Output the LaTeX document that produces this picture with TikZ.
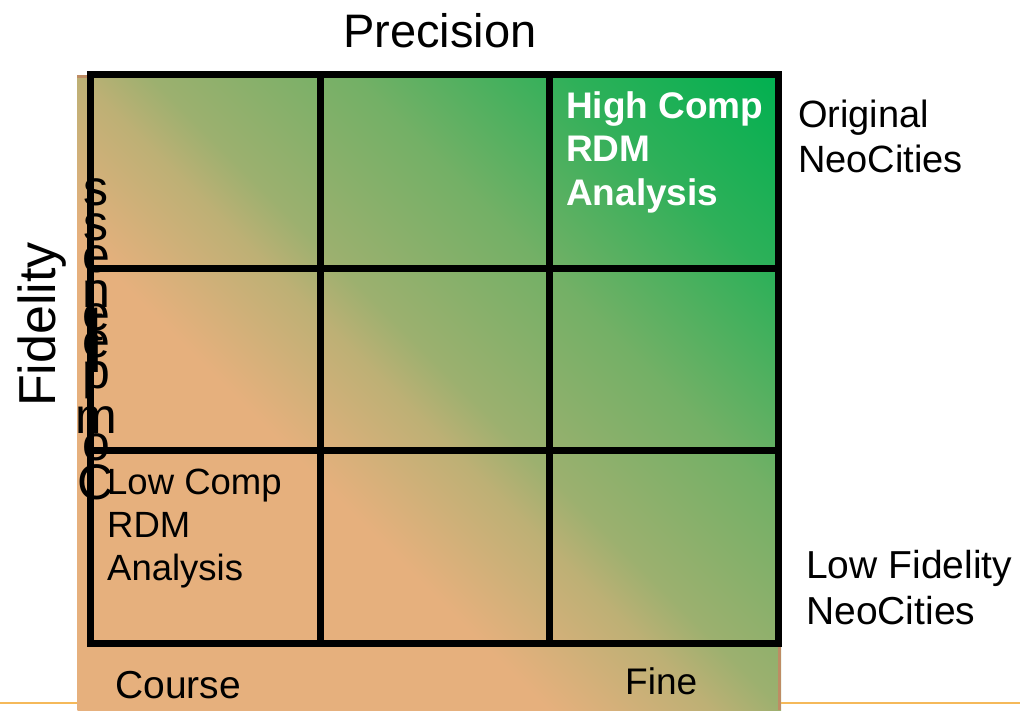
\documentclass[tikz,border=0pt]{standalone}
\usepackage{fontspec}
\setmainfont{Liberation Sans}
\usetikzlibrary{positioning}

\definecolor{orangetan}{RGB}{230,176,125}
\definecolor{mixa}{RGB}{189,176,117}
\definecolor{mixb}{RGB}{156,176,111}
\definecolor{mixc}{RGB}{115,176,102}
\definecolor{mixd}{RGB}{46,176,89}
\definecolor{brightgreen}{RGB}{0,176,80}
\definecolor{brownedge}{RGB}{190,140,100}
\definecolor{rulerorange}{RGB}{245,185,90}

\pgfdeclarehorizontalshading{cellshade}{100bp}{color(0bp)=(orangetan); color(25bp)=(orangetan);
  color(42.6bp)=(orangetan); color(48.7bp)=(mixa); color(51.4bp)=(mixb);
  color(59bp)=(mixc); color(67.1bp)=(mixd); color(75bp)=(brightgreen); color(100bp)=(brightgreen)}

\begin{document}
\begin{tikzpicture}[x=1pt,y=-1pt]
    \tikzset{gridline/.style = {line width=7pt, black},
        label/.style = {inner sep=0pt, anchor=base west, font=\fontsize{38}{44}\selectfont},
        stackch/.style = {inner sep=0pt, anchor=base, font=\fontsize{50}{52}\selectfont}
        }
    \useasboundingbox (0,0) rectangle (1020,710);

    \def\Cx{429};
    \def\Cy{392.5};
    \def\Hu{473.4};
    \def\Hv{480};

    % Background gradient.
    \begin{scope}
        \clip (77,75) rectangle (781,710);
        \shade[shading=cellshade, transform canvas={rotate around={45:(\Cx,\Cy)}}]
            (\Cx-\Hu,\Cy-\Hv) rectangle (\Cx+\Hu,\Cy+\Hv);
    \end{scope}
    \draw[brownedge, line width=3pt] (77,76.5) -- (779.5,76.5) -- (779.5,710);

    % Bottom rule.
    \draw[rulerorange, line width=2pt] (0,703) -- (77,703);
    \draw[rulerorange, line width=2pt] (781,703) -- (1020,703);

    % Stacked axis letters.
    \foreach \ch/\yy [count=\i] in {C/499, o/460, m/433, p/388, l/372, e/357,
        t/340, e/330, n/307, e/272, s/240, s/205}
        \node[stackch] (stack\i) at (96,\yy) {\ch};

    % Draw the grid.
    \draw[gridline] (90,74) rectangle (778.5,643);
    \foreach \xx in {320,549}
        \draw[gridline] (\xx,74) -- (\xx,643);
    \foreach \yy in {268,450}
        \draw[gridline] (90,\yy) -- (778.5,\yy);

    % Axis labels.
    \node[inner sep=0pt, anchor=base, font=\fontsize{47}{50}\selectfont] (precision) at (440,47) {Precision};
    \node[inner sep=0pt, anchor=base, rotate=90, font=\fontsize{52}{56}\selectfont] (fidelity) at (55,324.5) {Fidelity};
    \node[label, font=\fontsize{39}{44}\selectfont] (course) at (115,698) {Course};
    \node[label, font=\fontsize{37}{44}\selectfont] (fine) at (625,694) {Fine};

    % Right hand labels.
    \node[label] (orig1) at (798,127) {Original};
    \node[label] (orig2) at (798,172) {NeoCities};
    \node[label, font=\fontsize{39}{44}\selectfont] (lowfid1) at (806,578) {Low Fidelity};
    \node[label, font=\fontsize{39}{44}\selectfont] (lowfid2) at (806,624) {NeoCities};

    % Cell labels.
    \node[label, white, font=\fontsize{37}{44}\bfseries\selectfont] (high1) at (566,118) {High Comp};
    \node[label, white, font=\fontsize{37}{44}\bfseries\selectfont] (high2) at (566,161) {RDM};
    \node[label, white, font=\fontsize{37}{44}\bfseries\selectfont] (high3) at (566,205) {Analysis};
    \node[label, font=\fontsize{36.5}{44}\selectfont] (low1) at (107,494) {Low Comp};
    \node[label, font=\fontsize{36.5}{44}\selectfont] (low2) at (107,537) {RDM};
    \node[label, font=\fontsize{36.5}{44}\selectfont] (low3) at (107,580) {Analysis};
\end{tikzpicture}
\end{document}
